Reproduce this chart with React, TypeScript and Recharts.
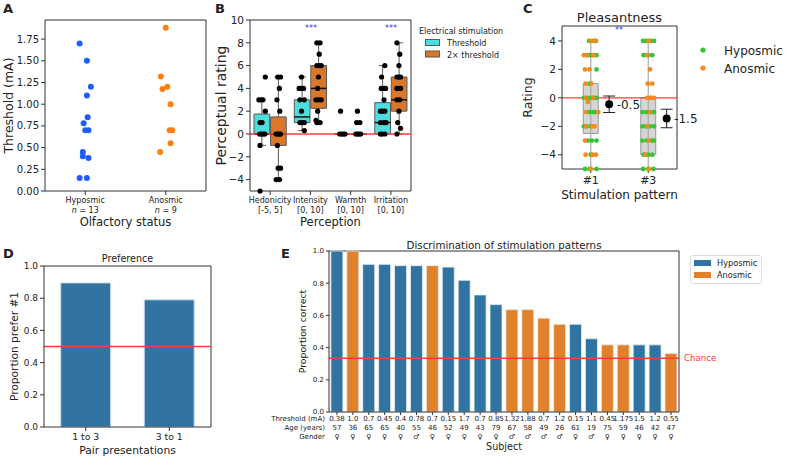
import React from 'react';
import {
  ScatterChart,
  Scatter,
  BarChart,
  Bar,
  Cell,
  XAxis,
  YAxis,
  CartesianGrid,
  ReferenceLine,
  ReferenceArea,
  ErrorBar,
  LabelList,
} from 'recharts';

const FONT = '"DejaVu Sans", sans-serif';
const AXIS = '#333';
const TXT = '#222';
const BLUE = '#3274a1';
const ORANGE = '#e1812c';
const RED = '#ff3b3b';

// ---- A: threshold by olfactory status
const hypoThreshold = [1.7, 1.5, 1.2, 1.1, 0.85, 0.78, 0.7, 0.7, 0.45, 0.4, 0.38, 0.15, 0.15];
const hypoJitter = [-0.07, 0.02, 0.07, 0.02, 0.03, -0.02, 0, 0.04, -0.03, -0.03, 0.04, -0.07, 0.02];
const anosThreshold = [1.88, 1.32, 1.2, 1.175, 1.0, 0.7, 0.7, 0.55, 0.45];
const anosJitter = [0, -0.06, 0.02, -0.04, 0.06, 0.05, 0.08, 0.06, -0.07];
const aTicks = [0, 0.25, 0.5, 0.75, 1.0, 1.25, 1.5, 1.75];
const aGroups = [['Hyposmic', '13'], ['Anosmic', '9']];

// ---- B: perceptual ratings, [offset, rating]
const bCategories = ['Hedonicity', 'Intensity', 'Warmth', 'Irritation'];
const bRanges = ['[-5, 5]', '[0, 10]', '[0, 10]', '[0, 10]'];
const bTicks = [-4, -2, 0, 2, 4, 6, 8, 10];
// [q1, median, q3, whiskerLow, whiskerHigh]
const bThreshBox = [[0, 0, 1.75, -1, 3], [1, 1.5, 3, 0.3, 5], [0, 0, 0, 0, 0], [0, 1, 2.75, 0, 6]];
const bDoubleBox = [[-1, 0, 1.5, -4, 5], [2.25, 4, 6, 1, 8], [0, 0, 0, 0, 0], [2, 3, 5, 0, 8]];
const bThreshPts = [
  [[0.08, 5], [-0.08, 3], [-0.03, 3], [0.02, 3], [0.08, 2], [-0.05, 1], [0, 1], [-0.06, 0], [-0.02, 0], [0.03, 0], [0.07, 0], [-0.05, -1], [-0.05, -5]],
  [[-0.02, 5], [-0.08, 4], [-0.03, 4], [0.03, 4], [-0.06, 3], [0.05, 3], [-0.02, 2], [-0.06, 1], [0, 1], [0.05, 1], [0.05, 0.3]],
  [[-0.05, 2], [-0.07, 0], [-0.02, 0], [0.02, 0], [0.06, 0]],
  [[0.05, 6], [-0.03, 5], [-0.04, 4], [0.03, 4], [0.07, 4], [0.03, 3], [-0.06, 2], [-0.02, 2], [0.05, 2], [-0.06, 1], [0.03, 1], [0.08, 1], [-0.06, 0], [-0.02, 0], [0.05, 0]],
];
const bDoublePts = [
  [[-0.01, 5], [0.06, 5], [0.03, 4], [-0.03, 3], [0.04, 2], [-0.05, 0], [-0.01, 0], [0.03, 0], [0.06, 0], [-0.02, -1], [0, -3], [0.06, -3], [-0.05, -4], [0.03, -4]],
  [[-0.04, 8], [0.04, 8], [0.02, 7], [-0.04, 6], [0.02, 6], [0.07, 6], [0, 5], [-0.02, 4], [-0.06, 3], [0, 3], [0.07, 3], [-0.02, 2], [-0.06, 1.2], [-0.04, 1], [0.04, 1]],
  [[-0.03, 2], [-0.05, 1], [0.03, 1], [-0.07, 0], [-0.03, 0], [0.01, 0], [0.05, 0]],
  [[-0.05, 8], [0.02, 7], [0, 6], [-0.05, 5], [0.01, 5], [0.04, 5], [-0.05, 4], [0, 4], [0.04, 4], [-0.05, 3], [0.02, 3], [0, 2], [-0.03, 1], [0.04, 0.5], [-0.05, 0]],
];

// ---- C: pleasantness by stimulation pattern
const cPatterns = ['#1', '#3'];
const cTicks = [-4, -2, 0, 2, 4];
// [q1, q3, whiskerLow, whiskerHigh]
const cBox = [[-2.5, 1, -5, 4], [-4, 0, -5, 4]];
const cMean = [-0.45, -1.45];
const cMeanErr = [0.58, 0.65];
const cMeanLabel = ['-0.5', '-1.5'];
const cHypoPts = [
  [[-0.03, 4], [0.05, 4], [0.09, 4], [-0.05, 3], [0, 3], [0.06, 3], [0.1, 3], [0.1, 2], [-0.02, 1], [-0.12, 0], [-0.06, 0], [0, 0], [0.05, 0], [0.1, 0], [-0.02, -1], [0.04, -1], [0.08, -1], [-0.12, -2], [-0.07, -2], [0, -2], [-0.05, -3], [0.02, -3], [0.1, -3], [0, -4], [-0.1, -5], [-0.02, -5], [0.1, -5]],
  [[-0.09, 4], [-0.03, 4], [0.04, 4], [0.1, 4], [-0.08, 3], [0, 3], [0.07, 3], [0.04, 0], [-0.1, -1], [-0.03, -1], [0.05, -1], [0.1, -1], [-0.1, -2], [-0.04, -2], [0.03, -2], [0.1, -2], [-0.1, -3], [-0.02, -3], [0.06, -3], [0.1, -3], [-0.08, -4], [0, -4], [0.07, -4], [-0.09, -5], [0, -5], [0.09, -5]],
];
const cAnosPts = [
  [[0, 4], [0.07, 4], [-0.12, 3], [-0.07, 3], [0.05, 3], [-0.1, 2], [-0.02, 2], [-0.09, 1], [0.01, 1], [-0.08, 0], [0.04, 0], [-0.05, -0.3], [-0.08, -1], [0.13, -1], [-0.08, -2], [0.03, -2], [0.07, -2], [-0.1, -3], [-0.09, -4], [0.03, -4], [0.09, -4], [0, -5]],
  [[0.01, 4], [-0.02, 3], [0.03, 2], [-0.01, 1], [0.07, 1], [-0.02, 0], [0.05, 0], [0.1, 0], [0.03, -1], [-0.02, -2], [0.01, -3], [-0.05, -4], [0.01, -5]],
];

// ---- D: preference
const dPairs = ['1 to 3', '3 to 1'];
const dPrefer = [0.895, 0.79];

// ---- E: discrimination per subject
const eAccuracy = [1.0, 1.0, 0.917, 0.917, 0.909, 0.909, 0.909, 0.9, 0.818, 0.727, 0.667, 0.636, 0.636, 0.583, 0.545, 0.545, 0.455, 0.417, 0.417, 0.417, 0.417, 0.364];
const eGroup = ['H', 'A', 'H', 'H', 'H', 'H', 'A', 'H', 'H', 'H', 'H', 'A', 'A', 'A', 'A', 'H', 'H', 'A', 'A', 'H', 'H', 'A'];
const eThreshold = ['0.38', '1.0', '0.7', '0.45', '0.4', '0.78', '0.7', '0.15', '1.7', '0.7', '0.85', '1.32', '1.88', '0.7', '1.2', '0.15', '1.1', '0.45', '1.175', '1.5', '1.2', '0.55'];
const eAge = [57, 36, 65, 65, 40, 55, 46, 52, 49, 43, 79, 67, 58, 49, 26, 61, 19, 75, 59, 46, 42, 47];
const eGender = ['♀', '♀', '♀', '♀', '♀', '♂', '♀', '♀', '♀', '♀', '♀', '♂', '♂', '♂', '♂', '♀', '♂', '♀', '♀', '♀', '♀', '♀'];
const eRowNames = ['Threshold (mA)', 'Age (years)', 'Gender'];
const tenths = [0, 0.2, 0.4, 0.6, 0.8, 1.0];

const minus = (v: number) => (v < 0 ? '\u2212' + Math.abs(v) : String(v));

const dot = (r: number, fill: string) => (p: any) => <circle cx={p.cx} cy={p.cy} r={r} fill={fill} />;

const tickStyle = (size: number) => ({ fontSize: size, fill: TXT, fontFamily: FONT });

const yLabel = (value: string, size: number, offset: number) => ({
  value,
  angle: -90,
  position: 'insideLeft',
  offset,
  style: { textAnchor: 'middle', fontSize: size, fill: TXT, fontFamily: FONT },
});

const xLabel = (value: string, size: number, offset: number) => ({
  value,
  position: 'insideBottom',
  offset,
  style: { fontSize: size, fill: TXT, fontFamily: FONT },
});

// top + right spines, drawn as a one-line grid at the plot edges
const frame = () => (
  <CartesianGrid
    stroke={AXIS}
    strokeWidth={1}
    horizontalCoordinatesGenerator={(p: any) => [p.offset.top]}
    verticalCoordinatesGenerator={(p: any) => [p.offset.left + p.offset.width]}
  />
);

const TwoLineTick = (props: any) => {
  const { x, y, payload, lines } = props;
  const l = lines[payload.value];
  if (!l) return null;
  return (
    <g>
      <text x={x} y={y} dy="0.75em" textAnchor="middle" fontSize={8} fill={TXT} fontFamily={FONT}>{l[0]}</text>
      <text x={x} y={y + 9.5} dy="0.75em" textAnchor="middle" fontSize={8} fill={TXT} fontFamily={FONT}>{l[1]}</text>
    </g>
  );
};

const AGroupTick = (props: any) => {
  const { x, y, payload } = props;
  const g = aGroups[payload.value];
  if (!g) return null;
  return (
    <g>
      <text x={x} y={y} dy="0.75em" textAnchor="middle" fontSize={8} fill={TXT} fontFamily={FONT}>{g[0]}</text>
      <text x={x} y={y + 9.5} dy="0.75em" textAnchor="middle" fontSize={8} fill={TXT} fontFamily={FONT}>
        <tspan fontStyle="italic">n</tspan> = {g[1]}
      </text>
    </g>
  );
};

const ETick = (props: any) => {
  const { x, y, payload } = props;
  const i = Number(payload.value);
  const rows = [eThreshold[i], String(eAge[i]), eGender[i]];
  return (
    <g fontSize={7} fill={TXT} fontFamily={FONT}>
      {rows.map((r, k) => (
        <text key={k} x={x} y={y + k * 9} dy="0.75em" textAnchor="middle">{r}</text>
      ))}
      {i === 0 &&
        eRowNames.map((r, k) => (
          <text key={'n' + k} x={x - 12} y={y + k * 9} dy="0.75em" textAnchor="end">{r}</text>
        ))}
    </g>
  );
};

function PanelA() {
  const hypo = hypoThreshold.map((v, i) => ({ x: hypoJitter[i], y: v }));
  const anos = anosThreshold.map((v, i) => ({ x: 1 + anosJitter[i], y: v }));
  return (
    <ScatterChart width={215} height={230} margin={{ top: 20, right: 9, bottom: 0, left: 0 }}>
      {frame()}
      <XAxis type="number" dataKey="x" domain={[-0.5, 1.5]} ticks={[0, 1]} height={39} stroke={AXIS}
        tickSize={4} tickMargin={2} tick={<AGroupTick />} label={xLabel('Olfactory status', 11.5, 4)} />
      <YAxis type="number" dataKey="y" domain={[0, 1.97]} ticks={aTicks} width={45} stroke={AXIS}
        tickSize={4} tickMargin={2} tick={tickStyle(10)} tickFormatter={(v: number) => v.toFixed(2)}
        label={yLabel('Threshold (mA)', 12.5, 9)} />
      <Scatter data={hypo} shape={dot(3, '#1f5cff')} isAnimationActive={false} />
      <Scatter data={anos} shape={dot(3, '#ff7f0e')} isAnimationActive={false} />
    </ScatterChart>
  );
}

function boxElements(stats: number[][], side: number, fill: string, key: string) {
  const out: any[] = [];
  stats.forEach(([q1, med, q3, lo, hi], c) => {
    const x0 = side < 0 ? c - 0.4 : c + 0.01;
    const x1 = side < 0 ? c - 0.01 : c + 0.4;
    const xm = (x0 + x1) / 2;
    const ew = 0.1;
    const grey = '#5a5a5a';
    out.push(<ReferenceLine key={key + 'wl' + c} segment={[{ x: xm, y: lo }, { x: xm, y: q1 }]} stroke={grey} strokeWidth={1} ifOverflow="visible" />);
    out.push(<ReferenceLine key={key + 'wh' + c} segment={[{ x: xm, y: q3 }, { x: xm, y: hi }]} stroke={grey} strokeWidth={1} ifOverflow="visible" />);
    out.push(<ReferenceLine key={key + 'cl' + c} segment={[{ x: xm - ew, y: lo }, { x: xm + ew, y: lo }]} stroke={grey} strokeWidth={1} ifOverflow="visible" />);
    out.push(<ReferenceLine key={key + 'ch' + c} segment={[{ x: xm - ew, y: hi }, { x: xm + ew, y: hi }]} stroke={grey} strokeWidth={1} ifOverflow="visible" />);
    out.push(<ReferenceArea key={key + 'bx' + c} x1={x0} x2={x1} y1={q1} y2={q3} fill={fill} fillOpacity={1} stroke={grey} strokeWidth={1} ifOverflow="visible" />);
    out.push(<ReferenceLine key={key + 'md' + c} segment={[{ x: x0, y: med }, { x: x1, y: med }]} stroke="#111" strokeWidth={1.5} ifOverflow="visible" />);
  });
  return out;
}

function PanelB() {
  const tPts = bThreshPts.flatMap((g, c) => g.map(([o, v]) => ({ x: c - 0.2 + o, y: v })));
  const dPts = bDoublePts.flatMap((g, c) => g.map(([o, v]) => ({ x: c + 0.2 + o, y: v })));
  const lines = bCategories.map((c, i) => [c, bRanges[i]]);
  return (
    <ScatterChart width={230} height={230} margin={{ top: 20, right: 14, bottom: 0, left: 0 }}>
      {frame()}
      <XAxis type="number" dataKey="x" domain={[-0.5, 3.5]} ticks={[0, 1, 2, 3]} height={39} stroke={AXIS}
        tickSize={4} tickMargin={2} tick={<TwoLineTick lines={lines} />} label={xLabel('Perception', 11.5, 4)} />
      <YAxis type="number" dataKey="y" domain={[-5, 10]} ticks={bTicks} width={55} stroke={AXIS}
        tickSize={4} tickMargin={2} tick={tickStyle(10.5)} tickFormatter={minus}
        label={yLabel('Perceptual rating', 14, 26)} />
      {boxElements(bThreshBox, -1, '#4fdede', 't')}
      {boxElements(bDoubleBox, 1, '#d9782b', 'd')}
      <ReferenceLine y={0} stroke={RED} strokeWidth={1.5} />
      <Scatter data={tPts} shape={dot(2.6, '#000')} isAnimationActive={false} />
      <Scatter data={dPts} shape={dot(2.6, '#000')} isAnimationActive={false} />
    </ScatterChart>
  );
}

function PanelC() {
  const hypo = cHypoPts.flatMap((g, c) => g.map(([o, v]) => ({ x: c + o, y: v })));
  const anos = cAnosPts.flatMap((g, c) => g.map(([o, v]) => ({ x: c + o, y: v })));
  const means = cMean.map((m, i) => ({ x: i + 0.32, y: m, err: cMeanErr[i], label: cMeanLabel[i] }));
  return (
    <ScatterChart width={200} height={210} margin={{ top: 26, right: 43, bottom: 0, left: 0 }}>
      {frame()}
      <XAxis type="number" dataKey="x" domain={[-0.5, 1.5]} ticks={[0, 1]} height={41} stroke={AXIS}
        tickSize={4} tickMargin={3} tick={tickStyle(11)} tickFormatter={(v: number) => cPatterns[v]}
        label={xLabel('Stimulation pattern', 12, 11)} />
      <YAxis type="number" dataKey="y" domain={[-5, 5.05]} ticks={cTicks} width={42} stroke={AXIS}
        tickSize={4} tickMargin={2} tick={tickStyle(10.5)} tickFormatter={minus}
        label={yLabel('Rating', 12.5, 8)} />
      {cBox.map(([q1, q3, lo, hi], c) => (
        <ReferenceLine key={'w' + c} segment={[{ x: c, y: lo }, { x: c, y: hi }]} stroke="#aaa" strokeWidth={1.2} />
      ))}
      {cBox.map(([q1, q3], c) => (
        <ReferenceArea key={'b' + c} x1={c - 0.13} x2={c + 0.13} y1={q1} y2={q3} fill="#d0d0d0" fillOpacity={0.9} stroke="#999" strokeWidth={1} />
      ))}
      <ReferenceLine y={0} stroke={RED} strokeWidth={1.2} />
      <Scatter data={hypo} shape={dot(2.4, '#35c535')} isAnimationActive={false} />
      <Scatter data={anos} shape={dot(2.4, '#f58a1f')} isAnimationActive={false} />
      <Scatter data={means} shape={dot(4, '#000')} isAnimationActive={false}>
        <ErrorBar dataKey="err" direction="y" width={6} stroke="#222" strokeWidth={1} />
        <LabelList dataKey="label" position="right" offset={3} style={{ fontSize: 12, fill: TXT, fontFamily: FONT }} />
      </Scatter>
    </ScatterChart>
  );
}

function PanelD() {
  const data = dPairs.map((p, i) => ({ pair: p, v: dPrefer[i] }));
  return (
    <BarChart width={220} height={242} data={data} margin={{ top: 51, right: 9, bottom: 0, left: 0 }} barCategoryGap="20%">
      {frame()}
      <XAxis dataKey="pair" height={30} stroke={AXIS} tickSize={4} tickMargin={2} tick={tickStyle(9.3)}
        label={xLabel('Pair presentations', 10.7, 3.5)} />
      <YAxis type="number" domain={[0, 1]} ticks={tenths} width={44} stroke={AXIS} tickSize={4} tickMargin={2}
        tick={tickStyle(9)} tickFormatter={(v: number) => v.toFixed(1)} label={yLabel('Proportion prefer #1', 10.6, 14)} />
      <Bar dataKey="v" fill={BLUE} stroke="#cfe0ec" strokeWidth={1} isAnimationActive={false} />
      <ReferenceLine y={0.5} stroke={RED} strokeWidth={1.5} />
    </BarChart>
  );
}

function PanelE() {
  const data = eAccuracy.map((v, i) => ({ id: i, v }));
  return (
    <BarChart width={500} height={242} data={data} margin={{ top: 36, right: 81, bottom: 0, left: 0 }} barCategoryGap="12%">
      {frame()}
      <XAxis dataKey="id" height={45} stroke={AXIS} tickSize={3} tickMargin={1} interval={0} tick={<ETick />}
        label={xLabel('Subject', 9.6, 7.5)} />
      <YAxis type="number" domain={[0, 1]} ticks={tenths} width={69} stroke={AXIS} tickSize={3} tickMargin={2}
        tick={tickStyle(7)} tickFormatter={(v: number) => v.toFixed(1)} label={yLabel('Proportion correct', 9.3, 43)} />
      <Bar dataKey="v" stroke="#e8eef3" strokeWidth={0.8} isAnimationActive={false}>
        {data.map((d, i) => (
          <Cell key={i} fill={eGroup[i] === 'H' ? BLUE : ORANGE} />
        ))}
      </Bar>
      <ReferenceLine y={1 / 3} stroke={RED} strokeWidth={1.5}
        label={{ value: 'Chance', position: 'right', offset: 5, style: { fontSize: 8.6, fill: RED, fontFamily: FONT } }} />
    </BarChart>
  );
}

function Overlay() {
  const t = { fontFamily: FONT, fill: TXT };
  return (
    <svg width={785} height={457} style={{ position: 'absolute', left: 0, top: 0, pointerEvents: 'none' }}>
      <g fontWeight="bold" fontSize={13} {...t}>
        <text x={3} y={13}>A</text>
        <text x={215} y={13}>B</text>
        <text x={523} y={13}>C</text>
        <text x={3} y={258}>D</text>
        <text x={281} y={258}>E</text>
      </g>
      <g fontSize={8} fill="#2a3cff" fontFamily={FONT} textAnchor="middle">
        <text x={311} y={31}>***</text>
        <text x={391} y={31}>***</text>
        <text x={619} y={33}>**</text>
      </g>
      <text x={619.5} y={22} fontSize={13} textAnchor="middle" {...t}>Pleasantness</text>
      <text x={127.5} y={261.5} fontSize={9.6} textAnchor="middle" {...t}>Preference</text>
      <text x={504} y={248.5} fontSize={10.3} textAnchor="middle" {...t}>Discrimination of stimulation patterns</text>
      {/* legend B */}
      <text x={419} y={34} fontSize={8} {...t}>Electrical stimulation</text>
      <rect x={425.5} y={39.5} width={14} height={6} fill="#4fdede" stroke="#5a5a5a" />
      <rect x={425.5} y={51} width={14} height={6} fill="#d9782b" stroke="#5a5a5a" />
      <text x={447} y={46} fontSize={8} {...t}>Threshold</text>
      <text x={447} y={57.5} fontSize={8} {...t}>2× threshold</text>
      {/* legend C */}
      <circle cx={703} cy={50} r={2.6} fill="#35c535" />
      <circle cx={703} cy={68} r={2.6} fill="#f58a1f" />
      <text x={724} y={54.5} fontSize={12} {...t}>Hyposmic</text>
      <text x={724} y={72.5} fontSize={12} {...t}>Anosmic</text>
      {/* legend E */}
      <rect x={690.5} y={255.5} width={71} height={28} rx={2} fill="#fff" stroke="#ddd" />
      <rect x={694} y={260} width={17} height={6} fill={BLUE} />
      <rect x={694} y={272} width={17} height={6} fill={ORANGE} />
      <text x={717} y={266} fontSize={8.2} {...t}>Hyposmic</text>
      <text x={717} y={278} fontSize={8.2} {...t}>Anosmic</text>
    </svg>
  );
}

export default function App() {
  return (
    <div style={{ position: 'fixed', left: 0, top: 0, width: 785, height: 457, background: '#fff', fontFamily: FONT, overflow: 'hidden' }}>
      <div style={{ position: 'absolute', left: 0, top: 0 }}><PanelA /></div>
      <div style={{ position: 'absolute', left: 195, top: 0 }}><PanelB /></div>
      <div style={{ position: 'absolute', left: 520, top: 0 }}><PanelC /></div>
      <div style={{ position: 'absolute', left: 0, top: 215 }}><PanelD /></div>
      <div style={{ position: 'absolute', left: 260, top: 215 }}><PanelE /></div>
      <Overlay />
    </div>
  );
}
